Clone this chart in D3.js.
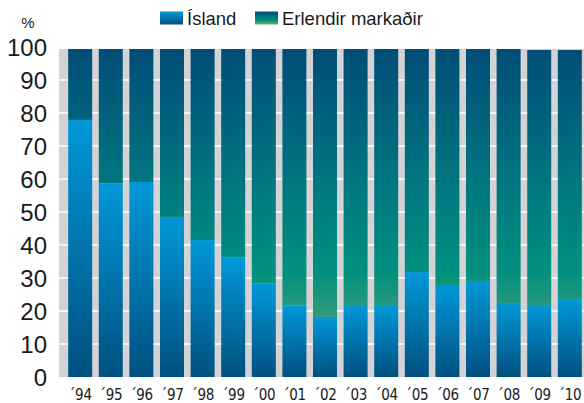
<!DOCTYPE html>
<html>
<head>
<meta charset="utf-8">
<script src="https://cdn.jsdelivr.net/npm/d3@7"></script>
<style>
  body { margin: 0; background: #fff; }
  svg { display: block; }
</style>
</head>
<body>
<svg id="chart" width="584" height="403"></svg>
<script>
// hlutfall islands og erlendra markada, 1994-2010
var years = ["´94","´95","´96","´97","´98","´99","´00","´01","´02","´03","´04","´05","´06","´07","´08","´09","´10"];
var island = [77.9, 58.7, 59.1, 48.5, 41.5, 36.2, 28.4, 21.6, 18.2, 21.8, 21.8, 31.8, 27.6, 29.1, 22.4, 21.8, 23.6];
var erlendir = [21.5, 40.7, 40.3, 50.9, 57.9, 63.2, 71.0, 77.8, 81.2, 77.6, 77.6, 67.6, 71.8, 70.3, 77.0, 77.3, 75.5];
var yTicks = [0, 10, 20, 30, 40, 50, 60, 70, 80, 90, 100];
var seriesNames = ["Ísland", "Erlendir markaðir"];

var svg = d3.select("#chart");

var x = d3.scaleBand()
  .domain(years)
  .range([59, 591])
  .paddingInner(0.216)
  .paddingOuter(0.3);

var y = d3.scaleLinear()
  .domain([0, 100])
  .range([377, 47]);

var defs = svg.append("defs");

// blue gradient, per bar segment
var gIs = defs.append("linearGradient").attr("id", "gIsland")
  .attr("x1", 0).attr("y1", 0).attr("x2", 0).attr("y2", 1);
gIs.append("stop").attr("offset", 0).attr("stop-color", "#0098d8");
gIs.append("stop").attr("offset", 1).attr("stop-color", "#00507f");

// blue -> green, over the whole plot height
var erStops = [[0, "#004c77"], [0.45, "#007a81"], [0.68, "#00907e"], [0.84, "#3a9d7b"], [1, "#5cb870"]];
var gEr = defs.append("linearGradient").attr("id", "gErlendir")
  .attr("gradientUnits", "userSpaceOnUse")
  .attr("x1", 0).attr("y1", y(100)).attr("x2", 0).attr("y2", y(0));
erStops.forEach(function(s){ gEr.append("stop").attr("offset", s[0]).attr("stop-color", s[1]); });

var gErLeg = defs.append("linearGradient").attr("id", "gErlendirLeg")
  .attr("x1", 0).attr("y1", 0).attr("x2", 0).attr("y2", 1);
erStops.forEach(function(s){ gErLeg.append("stop").attr("offset", s[0]).attr("stop-color", s[1]); });

// plot background
svg.append("rect")
  .attr("x", 59).attr("y", 49)
  .attr("width", 584 - 59).attr("height", y(0) - 49)
  .attr("fill", "#d3d3d5");

svg.append("g").selectAll("line")
  .data(yTicks.filter(function(d){ return d > 0 && d < 100; }))
  .join("line")
  .attr("x1", 59).attr("x2", 584)
  .attr("y1", function(d){ return y(d); })
  .attr("y2", function(d){ return y(d); })
  .attr("stroke", "#fff")
  .attr("stroke-width", 1.5);

// bars
var bars = svg.append("g");
bars.selectAll("rect.is")
  .data(years)
  .join("rect")
  .attr("class", "is")
  .attr("x", function(d){ return x(d); })
  .attr("width", x.bandwidth())
  .attr("y", function(d, i){ return y(island[i]); })
  .attr("height", function(d, i){ return y(0) - y(island[i]); })
  .attr("fill", "url(#gIsland)");

bars.selectAll("rect.er")
  .data(years)
  .join("rect")
  .attr("class", "er")
  .attr("x", function(d){ return x(d); })
  .attr("width", x.bandwidth())
  .attr("y", function(d, i){ return y(island[i] + erlendir[i]); })
  .attr("height", function(d, i){ return y(island[i]) - y(island[i] + erlendir[i]); })
  .attr("fill", "url(#gErlendir)");

// y axis labels
svg.append("g").selectAll("text")
  .data(yTicks)
  .join("text")
  .attr("x", 47)
  .attr("y", function(d){ return y(d); })
  .attr("dy", "0.36em")
  .attr("text-anchor", "end")
  .attr("font-family", "'Liberation Sans', Arial, sans-serif")
  .attr("font-size", 24)
  .attr("fill", "#1a1a1a")
  .text(function(d){ return d; });

// x axis labels
svg.append("g").selectAll("text")
  .data(years)
  .join("text")
  .attr("x", function(d){ return x(d) + x.bandwidth() / 2; })
  .attr("y", 400)
  .attr("text-anchor", "middle")
  .attr("font-family", "'DejaVu Sans Condensed', 'DejaVu Sans', sans-serif")
  .attr("font-stretch", "condensed")
  .attr("font-size", 15)
  .attr("letter-spacing", -0.3)
  .attr("fill", "#1a1a1a")
  .text(function(d){ return d; });

svg.append("text")
  .attr("x", 28).attr("y", 28)
  .attr("text-anchor", "middle")
  .attr("font-family", "'Liberation Sans', Arial, sans-serif")
  .attr("font-size", 15)
  .attr("fill", "#1a1a1a")
  .text("%");

// legend
var legX = [160, 255];
var fills = ["url(#gIsland)", "url(#gErlendirLeg)"];
var leg = svg.append("g").selectAll("g")
  .data(seriesNames)
  .join("g")
  .attr("transform", function(d, i){ return "translate(" + legX[i] + ",0)"; });
leg.append("rect")
  .attr("x", 0).attr("y", 11.5)
  .attr("width", 23).attr("height", 13)
  .attr("fill", function(d, i){ return fills[i]; });
leg.append("text")
  .attr("x", 27).attr("y", 25)
  .attr("font-family", "'Liberation Sans', Arial, sans-serif")
  .attr("font-size", 18.5)
  .attr("fill", "#1a1a1a")
  .text(function(d){ return d; });
</script>
</body>
</html>
